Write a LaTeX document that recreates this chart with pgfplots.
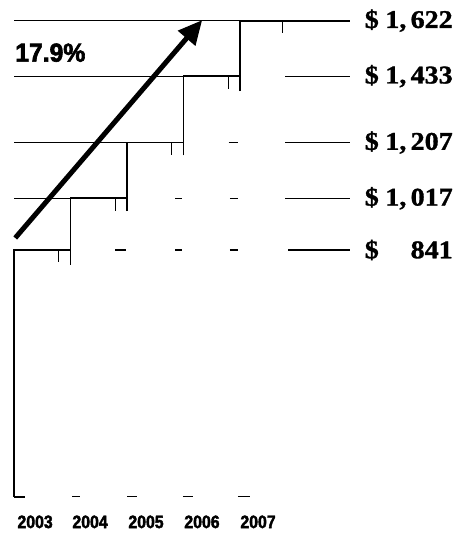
\documentclass[border=0pt]{standalone}
\usepackage{fontspec}
\setmainfont{Liberation Sans}
\newfontfamily\valfont{Liberation Serif}[FakeStretch=1.1,FakeBold=1.2]
\newfontfamily\yrfont{Liberation Sans}[FakeStretch=0.88,FakeBold=2.2]
\newfontfamily\pctfont{Liberation Sans}[FakeStretch=0.95,FakeBold=2.4]
\usepackage{pgfplots}
\pgfplotsset{compat=1.18}
\usetikzlibrary{arrows.meta}
\newcommand\val[1]{\makebox[88pt]{\$\hfill#1}}
\begin{document}
\begin{tikzpicture}
\begin{axis}[
  scale only axis, width=456pt, height=536pt,
  xmin=-0.2478, xmax=7.823, ymin=-132.8, ymax=1692.2,
  axis line style={draw=none},
  major tick length=0pt,
  clip=false,
  xtick={0.372,1.345,2.336,3.327,4.319},
  xticklabels={2003,2004,2005,2006,2007},
  xticklabel style={anchor=center, yshift=14pt, inner sep=0pt, font=\yrfont\bfseries\fontsize{18}{20}\selectfont},
  ytick={841,1017,1207,1433,1622},
  yticklabels={{\val{841}},{\val{1,\,017}},{\val{1,\,207}},{\val{1,\,433}},{\val{1,\,622}}},
  yticklabel pos=right,
  yticklabel style={anchor=east, xshift=-3pt, inner sep=0pt, font=\valfont\bfseries\fontsize{25.5}{28}\selectfont},
  grd/.style={black, line width=1.1pt, forget plot},
  stp/.style={black, line width=1.8pt, forget plot},
]
\path (rel axis cs:0,0) rectangle (rel axis cs:1,1);
% gridlines left of bars
\addplot[grd] coordinates {(0,1017) (1,1017)};
\addplot[grd] coordinates {(0,1207) (2,1207)};
\addplot[grd] coordinates {(0,1433) (3,1433)};
% right segments toward labels
\addplot[grd] coordinates {(4.85,841) (5.95,841)};
\addplot[grd] coordinates {(4.8,1017) (5.95,1017)};
\addplot[grd] coordinates {(4.8,1207) (5.95,1207)};
\addplot[grd] coordinates {(4.8,1433) (5.95,1433)};
% dashes across bars
\addplot[grd] coordinates {(1.79,841) (1.98,841)};
\addplot[grd] coordinates {(2.85,841) (2.97,841)};
\addplot[grd] coordinates {(3.82,841) (3.96,841)};
\addplot[grd] coordinates {(2.85,1017) (2.97,1017)};
\addplot[grd] coordinates {(3.82,1017) (3.96,1017)};
\addplot[grd] coordinates {(3.8,1207) (3.96,1207)};
% baseline dashes
\addplot[stp] coordinates {(0,0) (0.2,0)};
\addplot[grd] coordinates {(1.03,0) (1.17,0)};
\addplot[grd] coordinates {(2.0,0) (2.18,0)};
\addplot[grd] coordinates {(2.99,0) (3.17,0)};
\addplot[grd] coordinates {(3.96,0) (4.18,0)};
% staircase of bar tops
\addplot[stp] coordinates {(0,0) (0,841) (1,841) (1,1017) (2,1017) (2,1207) (3,1207) (3,1433) (4,1433) (4,1622) (5.95,1622)};
\addplot[grd] coordinates {(0,1622) (4,1622)};
% vertical extensions below corners
\addplot[stp] coordinates {(1,790) (1,841)};
\addplot[stp] coordinates {(2,973) (2,1017)};
\addplot[stp] coordinates {(3,1163) (3,1207)};
\addplot[stp] coordinates {(4,1382) (4,1433)};
% small stubs under bar tops
\addplot[grd] coordinates {(0.78,841) (0.78,800)};
\addplot[grd] coordinates {(1.79,1017) (1.79,973)};
\addplot[grd] coordinates {(2.78,1207) (2.78,1163)};
\addplot[grd] coordinates {(3.79,1433) (3.79,1390)};
\addplot[grd] coordinates {(4.76,1622) (4.76,1580)};
% growth arrow
\addplot[black, line width=5pt, -{Triangle[length=24pt,width=22pt]}, forget plot] coordinates {(0.02,882) (3.33,1624)};
\node[anchor=west, inner sep=0pt, font=\pctfont\bfseries\fontsize{26}{28}\selectfont] at (axis cs:0.018,1513) {17.9\%};
\end{axis}
\end{tikzpicture}
\end{document}
